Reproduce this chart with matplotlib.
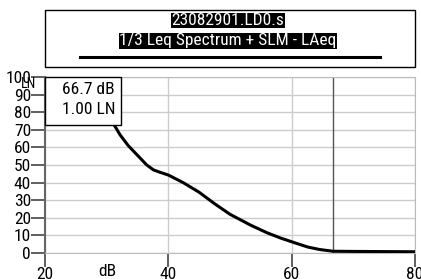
import matplotlib.pyplot as plt
from matplotlib.patches import Rectangle
from matplotlib.lines import Line2D

plt.rcParams['font.family'] = ['Roboto Condensed', 'Liberation Sans', 'DejaVu Sans']

# LN distribution curve (dB vs percent exceeded)
level_db = [29.5, 31.0, 32.2, 33.5, 35.0, 36.5, 37.6, 38.7, 40.0, 42.5, 45.0,
            47.5, 50.0, 53.3, 56.0, 58.2, 60.5, 62.6, 64.5, 66.7, 70.0, 75.0, 80.0]
ln_pct = [86, 74, 67, 61, 55.5, 50, 47.2, 45.8, 44.3, 39.8, 34.5,
          28, 22, 15.9, 11.5, 8.5, 5.8, 3.4, 2.0, 1.0, 0.9, 0.8, 0.7]
cursor_db = 66.7
cursor_ln = 1.00
x_ticks = [20, 40, 60, 80]
y_ticks = [0, 10, 20, 30, 40, 50, 60, 70, 80, 90, 100]
title_lines = ['23082901.LD0.s', '1/3 Leq Spectrum + SLM - LAeq']

FS = 12.5
W, H = 421, 279
fig = plt.figure(figsize=(W / 100, H / 100), dpi=100)
ax = fig.add_axes([45 / W, 1 - 253 / H, (415 - 45) / W, (253 - 77) / H])

ax.plot(level_db, ln_pct, color='black', lw=2.2, zorder=3, solid_capstyle='round')
ax.axvline(cursor_db, color='#555555', lw=1.0, zorder=2)

ax.set_xlim(20, 80)
ax.set_ylim(0, 100)
ax.set_xticks(x_ticks)
ax.set_yticks(y_ticks)
ax.grid(True, color='#cccccc', lw=1.0)
ax.set_axisbelow(True)
for s in ['top', 'right', 'bottom']:
    ax.spines[s].set_color('#bbbbbb')
ax.spines['left'].set_color('#666666')
ax.spines['left'].set_linewidth(1.5)
ax.tick_params(axis='both', length=10, width=1.2, color='#444444', labelsize=FS)
ax.tick_params(axis='y', pad=0)
ax.tick_params(axis='x', pad=0)

# info box in the corner
ax.add_patch(Rectangle((0, 0.727), (121 - 45) / 370, 1 - 0.727, transform=ax.transAxes,
                       facecolor='white', edgecolor='black', lw=1.0, zorder=5,
                       clip_on=False))
ax.text(115 / W, 1 - 90 / H, f'{cursor_db:.1f} dB', transform=fig.transFigure,
        ha='right', va='center', fontsize=FS, zorder=6)
ax.text(115 / W, 1 - 109 / H, f'{cursor_ln:.2f} LN', transform=fig.transFigure,
        ha='right', va='center', fontsize=FS, zorder=6)

fig.text(29 / W, 1 - 84 / H, 'LN', ha='center', va='center', fontsize=10)
fig.text(107 / W, 1 - 271 / H, 'dB', ha='center', va='center', fontsize=FS)

# title box
fig.patches.append(Rectangle((44.5 / W, 1 - 66.7 / H), (415 - 44.5) / W, (66.7 - 10) / H,
                             transform=fig.transFigure, facecolor='white',
                             edgecolor='black', lw=1.0))
for txt, yc in zip(title_lines, [20.5, 40.7]):
    fig.text(228 / W, 1 - yc / H, txt, ha='center', va='center', fontsize=FS,
             color='white', bbox=dict(facecolor='black', edgecolor='none', pad=0.3))
fig.lines.append(Line2D([80 / W, 380 / W], [1 - 57.3 / H, 1 - 57.3 / H],
                        transform=fig.transFigure, color='black', lw=2.2))

fig.savefig('out.png', dpi=100)
